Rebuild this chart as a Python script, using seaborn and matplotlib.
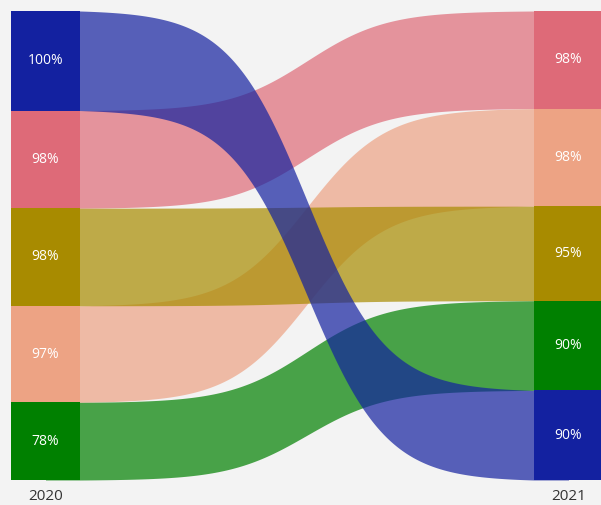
import numpy as np
import pandas as pd
import matplotlib
matplotlib.use("Agg")
import matplotlib.pyplot as plt
import seaborn as sns

# Ranked categories per year with their percentage values
years = ["2020", "2021"]
cats_2020 = ["A", "B", "C", "D", "E"]
vals_2020 = [100, 98, 98, 97, 78]
cats_2021 = ["B", "D", "C", "E", "A"]
vals_2021 = [98, 98, 95, 90, 90]
labels_2020 = ["100%", "98%", "98%", "97%", "78%"]
labels_2021 = ["98%", "98%", "95%", "90%", "90%"]

palette = {"A": "#1321a0", "B": "#de6a78", "C": "#a88b00", "D": "#eda384", "E": "#008000"}
band_order = ["B", "D", "C", "E", "A"]

sns.set_theme(style="white")
plt.rcParams["font.family"] = ["Open Sans", "DejaVu Sans"]

bg = "#f3f3f3"
fig = plt.figure(figsize=(6.01, 5.05), dpi=100, facecolor=bg)
W, H = 601, 505
ax = fig.add_axes([11 / W, 25 / H, (603 - 11) / W, 469 / H])
ax.set_facecolor(bg)

total = sum(vals_2020)
block_w = 69 / 592
ax.set_xlim(0, 1)
ax.set_ylim(total, 0)
ax.axis("off")


def stack(cats, vals):
    df = pd.DataFrame({"cat": cats, "val": vals})
    df["bottom"] = df["val"].cumsum() - df["val"]
    return df.set_index("cat")


left = stack(cats_2020, vals_2020)
right = stack(cats_2021, vals_2021)

# Ribbons between the two columns: edges follow a normalised logistic easing,
# extended flat underneath the columns so no seam shows at their edges
x0, x1 = block_w, 1 - block_w
u = np.linspace(0, 1, 300)
steep = 11.5
sig = 1 / (1 + np.exp(-steep * (u - 0.5)))
ease = (sig - sig[0]) / (sig[-1] - sig[0])
xs = np.concatenate([[x0 / 2], x0 + (x1 - x0) * u, [1 - x0 / 2]])
ease = np.concatenate([[0.0], ease, [1.0]])

for c in band_order:
    lt, lb = left.loc[c, "bottom"], left.loc[c, "bottom"] + left.loc[c, "val"]
    rt, rb = right.loc[c, "bottom"], right.loc[c, "bottom"] + right.loc[c, "val"]
    top = lt + (rt - lt) * ease
    bot = lb + (rb - lb) * ease
    ax.fill_between(xs, top, bot, color=palette[c], alpha=0.7, lw=0)

# Year columns
for df, labs, xc in [(left, labels_2020, block_w / 2), (right, labels_2021, 1 - block_w / 2)]:
    ax.bar([xc] * len(df), df["val"], bottom=df["bottom"], width=block_w,
           color=[palette[c] for c in df.index], linewidth=0, zorder=3)
    for (c, row), lab in zip(df.iterrows(), labs):
        ax.text(xc, row["bottom"] + row["val"] / 2, lab, ha="center", va="center",
                color="white", fontsize=10, zorder=4)

for xc, yr in [(block_w / 2, years[0]), (1 - block_w / 2, years[1])]:
    ax.text(xc, total + 17, yr, ha="center", va="center", color="#333333",
            fontsize=11, clip_on=False)

fig.savefig("out.png", dpi=100, facecolor=bg)
